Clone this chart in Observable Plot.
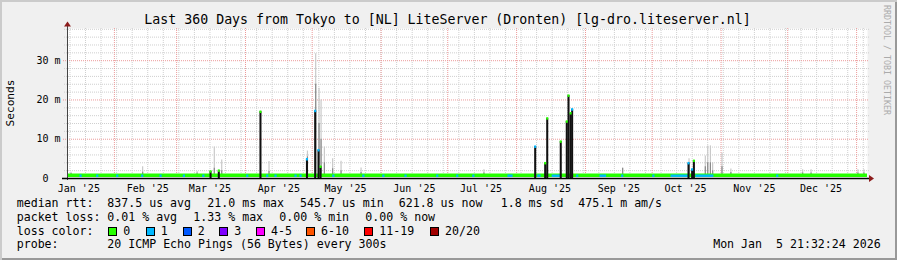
<!DOCTYPE html>
<html><head><meta charset="utf-8">
<script src="https://cdn.jsdelivr.net/npm/d3@7"></script>
<script src="https://cdn.jsdelivr.net/npm/@observablehq/plot@0.6"></script>
<style>
html,body{margin:0;padding:0;background:#fff;}
#chart{position:relative;width:897px;height:260px;background:#f0f0f0;overflow:hidden;
  box-shadow: inset 2px 2px 0 #cbcbcb, inset -2px -2px 0 #999;
  font-family:"DejaVu Sans Mono",monospace;color:#000;}
.t{position:absolute;white-space:pre;line-height:1;}
.sq{position:absolute;box-sizing:border-box;border:1px solid #000;width:9px;height:9px;}
#plotwrap{position:absolute;left:0;top:20px;}
</style></head>
<body><div id="chart"><div id="plotwrap"></div></div>
<script>
// ---------------- data ----------------
const titleText = "Last 360 Days from Tokyo to [NL] LiteServer (Dronten) [lg-dro.liteserver.nl]";
const yAxisTitle = "Seconds";
const watermark = "RRDTOOL / TOBI OETIKER";
const rangeStart = "2025-01-10T21:32:24";
const rangeEnd = "2026-01-05T21:32:24";

const monthLabels = ["Jan '25","Feb '25","Mar '25","Apr '25","May '25","Jun '25","Jul '25","Aug '25","Sep '25","Oct '25","Nov '25","Dec '25"];
const monthLabelDates = ["2025-01-16","2025-02-16","2025-03-16","2025-04-16","2025-05-16","2025-06-16","2025-07-16","2025-08-16","2025-09-16","2025-10-16","2025-11-16","2025-12-16"];

const yTickValues = [0, 10, 20, 30];
const yTickLabels = ["0\u00a0\u00a0", "10 m", "20 m", "30 m"];
const yMinorGrid = [2,4,6,8,12,14,16,18,22,24,26,28,32,34,36,38];
const yMajorGrid = [10, 20, 30];
const yMax = 38.2;

// typical median rtt (ms)
const medianMs = 0.84;

// bins where the median jumped (dark smoke bar + coloured median tip)
const spikeDates = ["2025-03-16T12:00","2025-03-20T05:00","2025-04-07T23:00","2025-04-28T21:00","2025-05-02T14:00","2025-05-04T02:00","2025-05-05T00:00",
  "2025-08-09T14:00","2025-08-14T02:00","2025-08-15T00:00","2025-08-21T02:00","2025-08-23T19:00","2025-08-24T14:00","2025-08-25T12:00","2025-08-26T05:00",
  "2025-10-17T14:00","2025-10-19T05:00","2025-10-20T00:00"];
const spikeMs = [1.8, 2.0, 17.0, 4.9, 17.2, 7.2, 3.0, 8.1, 3.9, 15.3, 9.4, 14.5, 21.1, 16.6, 17.6, 3.9, 2.3, 4.5];
const spikeLoss = [0, 0, 0, 1, 1, 1, 0, 1, 0, 0, 0, 0, 0, 0, 1, 1, 1, 0];

// grey smoke (ping spread) spikes
const smokeDates = ["2025-01-12T12:00","2025-02-13T17:00","2025-03-10T05:00","2025-03-17T23:00","2025-03-21T07:00","2025-04-11T14:00","2025-04-28T21:00",
  "2025-05-02T14:00","2025-05-04T02:00","2025-05-05T00:00","2025-05-06T12:00","2025-05-10T05:00","2025-05-14T00:00","2025-05-23T00:00",
  "2025-07-17T07:00","2025-09-17T17:00","2025-10-17T14:00","2025-10-24T22:00","2025-10-26T00:00","2025-10-27T05:00","2025-10-28T05:00",
  "2025-11-01T10:00","2025-11-05T10:00","2025-12-07T17:00","2025-12-11T12:00","2026-01-01T14:00","2026-01-04T07:00"];
const smokeMaxMs = [1.6, 3.0, 1.8, 8.0, 4.7, 4.3, 7.0, 31.8, 23.0, 20.0, 8.0, 5.0, 4.4, 2.7, 2.2, 2.6, 5.0, 5.7, 8.3, 8.3, 4.0, 6.4, 2.4, 2.2, 2.2, 2.2, 2.2];
const smokeMidMs = [1.3, 1.6, 1.4, 2.6, 2.0, 1.8, 5.5, 24.0, 14.0, 10.0, 4.0, 2.5, 2.0, 1.5, 1.4, 2.6, 4.0, 3.0, 4.0, 4.0, 2.0, 3.0, 1.5, 1.4, 1.4, 1.4, 1.4];

// bins with 1/20 loss (median drawn in the "1" colour)
const lossStart = ["2025-01-16T12:00","2025-01-24T00:00","2025-02-02T00:00","2025-02-13T06:00","2025-02-21T12:00","2025-03-04T00:00","2025-03-12T18:00",
  "2025-04-01T12:00","2025-04-10T12:00","2025-04-14T06:00","2025-04-23T06:00","2025-04-25T12:00","2025-05-10T06:00","2025-05-23T18:00",
  "2025-06-01T18:00","2025-06-11T18:00","2025-06-26T00:00","2025-07-05T00:00","2025-07-12T06:00","2025-07-28T02:00","2025-08-10T12:00",
  "2025-08-17T00:00","2025-08-28T00:00","2025-09-07T12:00","2025-09-17T06:00","2025-10-01T06:00","2025-10-09T12:00","2025-10-20T17:00","2025-11-26T00:00"];
const lossEnd = ["2025-01-17T12:00","2025-01-25T00:00","2025-02-03T00:00","2025-02-14T06:00","2025-02-22T12:00","2025-03-05T00:00","2025-03-13T18:00",
  "2025-04-02T12:00","2025-04-11T12:00","2025-04-15T06:00","2025-04-24T06:00","2025-04-26T12:00","2025-05-11T06:00","2025-05-24T18:00",
  "2025-06-02T18:00","2025-06-12T18:00","2025-06-27T00:00","2025-07-06T00:00","2025-07-13T06:00","2025-07-30T10:00","2025-08-12T00:00",
  "2025-08-21T00:00","2025-08-29T00:00","2025-09-10T12:00","2025-09-18T06:00","2025-10-02T06:00","2025-10-17T08:00","2025-10-28T19:00","2025-11-27T00:00"];

const lossLabels = ["0","1","2","3","4-5","6-10","11-19","20/20"];
const lossColors = ["#26ff00","#00b8ff","#0059ff","#7e00ff","#ff00ff","#ff5500","#ff0000","#a10000"];

const statsMedian = ["median rtt:", "837.5 us avg", "21.0 ms max", "545.7 us min", "621.8 us now", "1.8 ms sd", "475.1 m am/s"];
const statsLoss = ["packet loss:", "0.01 % avg", "1.33 % max", "0.00 % min", "0.00 % now"];
const lossRowLabel = "loss color:";
const probeText = ["probe:", "20 ICMP Echo Pings (56 Bytes) every 300s"];
const stampText = "Mon Jan  5 21:32:24 2026";

// ---------------- helpers ----------------
const D = s => new Date(s.length === 10 ? s + "T00:00:00Z" : s + "Z");
const start = D(rangeStart), end = D(rangeEnd);
const yLabelMap = new Map(yTickValues.map((v, i) => [v, yTickLabels[i]]));
const xLabelMap = new Map(monthLabelDates.map((d, i) => [D(d).getTime(), monthLabels[i]]));
const spikeIdx = d3.range(spikeDates.length);
const smokeIdx = d3.range(smokeDates.length);
const lossIdx = d3.range(lossStart.length);
const weekLines = d3.utcSunday.range(start, end);
const monthLines = d3.utcMonth.range(start, end);
const half = 11; // hours, half bin width

const minorGrid = "#cfcfcf", majorGrid = "#ec9a9a";

const plot = Plot.plot({
  width: 897, height: 180,
  marginLeft: 67, marginRight: 30, marginTop: 8, marginBottom: 22,
  style: {background: "transparent", fontFamily: "DejaVu Sans Mono", fontSize: "10px", overflow: "visible", color: "#000"},
  x: {type: "utc", domain: [start, end]},
  y: {domain: [0, yMax]},
  color: {type: "identity"},
  marks: [
    Plot.frame({fill: "white", stroke: "none"}),
    Plot.ruleX(weekLines, {stroke: minorGrid, strokeDasharray: "1,1"}),
    Plot.ruleY(yMinorGrid, {stroke: minorGrid, strokeDasharray: "1,1", insetLeft: -3, insetRight: -2}),
    Plot.ruleX(monthLines, {stroke: majorGrid, strokeDasharray: "1,1"}),
    Plot.ruleY(yMajorGrid, {stroke: majorGrid, strokeDasharray: "1,1", insetLeft: -4, insetRight: -2}),
    // smoke
    Plot.ruleX(smokeIdx, {x: i => D(smokeDates[i]), y1: () => medianMs, y2: i => smokeMaxMs[i], stroke: "#c9c9c9", strokeWidth: 1.2}),
    Plot.ruleX(smokeIdx, {x: i => D(smokeDates[i]), y1: () => medianMs, y2: i => smokeMidMs[i], stroke: "#8a8a8a", strokeWidth: 1.2}),
    // median baseline
    Plot.ruleY([medianMs], {y: d => d, x1: () => start, x2: () => end, stroke: lossColors[0], strokeWidth: 3.4}),
    // loss 1/20 bins on the median
    Plot.ruleY(lossIdx, {y: () => medianMs, x1: i => D(lossStart[i]), x2: i => D(lossEnd[i]), stroke: lossColors[1], strokeWidth: 2.4, dy: 0.5}),
    // dark bars
    Plot.rect(spikeIdx, {x1: i => d3.utcHour.offset(D(spikeDates[i]), -half), x2: i => d3.utcHour.offset(D(spikeDates[i]), half),
      y1: () => 0, y2: i => spikeMs[i], fill: "#111"}),
    // median tips coloured by loss
    Plot.ruleY(spikeIdx, {y: i => spikeMs[i], x1: i => d3.utcHour.offset(D(spikeDates[i]), -half), x2: i => d3.utcHour.offset(D(spikeDates[i]), half),
      stroke: i => lossColors[spikeLoss[i]], strokeWidth: 2.5}),
    Plot.axisY(yTickValues, {tickSize: 0, tickPadding: 7, tickFormat: d => yLabelMap.get(d), label: null, fontSize: 10}),
    Plot.axisX(monthLabelDates.map(D), {tickSize: 0, tickPadding: 6, tickFormat: d => xLabelMap.get(d.getTime()), label: null, fontSize: 10})
  ]
});
document.getElementById("plotwrap").appendChild(plot);

// axes lines and arrows (rrdtool style)
const [X0, X1] = plot.scale("x").range;
const [Y0, Y1] = plot.scale("y").range; // bottom, top
const g = d3.select(plot).append("g");
g.append("line").attr("x1", X0 + 0.5).attr("x2", X0 + 0.5).attr("y1", Y0 + 2).attr("y2", Y1 - 2)
  .attr("stroke", "#444").attr("stroke-width", 1);
g.append("line").attr("x1", X0 - 5).attr("x2", X1 + 2).attr("y1", Y0 + 0.5).attr("y2", Y0 + 0.5)
  .attr("stroke", "#000").attr("stroke-width", 1.3);
g.append("path").attr("d", `M${X0 + 0.5},${Y1 - 6.5}L${X0 + 4},${Y1 - 1.5}L${X0 - 3},${Y1 - 1.5}Z`).attr("fill", "#8c1c1c");
g.append("path").attr("d", `M${X1 + 7},${Y0 + 0.5}L${X1 + 2},${Y0 - 3}L${X1 + 2},${Y0 + 4}Z`).attr("fill", "#8c1c1c");

// ---------------- texts ----------------
const chart = document.getElementById("chart");
function txt(s, x, baseline, size, extra) {
  const el = document.createElement("div");
  el.className = "t";
  el.textContent = s;
  el.style.left = x + "px";
  el.style.top = (baseline - 0.846 * size) + "px";
  el.style.fontSize = size + "px";
  if (extra) Object.assign(el.style, extra);
  chart.appendChild(el);
  return el;
}
const F = 11.6;
txt(titleText, 447.5, 24, 13.25, {transform: "translateX(-50%)"});

// y axis title
const yt = document.createElement("div");
yt.className = "t"; yt.textContent = yAxisTitle;
Object.assign(yt.style, {left: "10.5px", top: "102.5px", fontSize: "11.2px", transform: "translate(-50%,-50%) rotate(-90deg)"});
chart.appendChild(yt);

// watermark
const wm = document.createElement("div");
wm.className = "t"; wm.textContent = watermark;
Object.assign(wm.style, {left: "886.5px", top: "60px", fontSize: "8.3px", color: "#ababab", transform: "translate(-50%,-50%) rotate(90deg)"});
chart.appendChild(wm);

const row1X = [16.7, 107.3, 207.3, 300, 398.7, 500.7, 578.3];
statsMedian.forEach((s, i) => txt(s, row1X[i], 207.5, F));
const row2X = [16.7, 107.3, 193.3, 279.3, 365.3];
statsLoss.forEach((s, i) => txt(s, row2X[i], 221.5, F));
txt(lossRowLabel, 16.7, 235.5, F);
const sqX = [108.3, 145.7, 182.7, 219.3, 256, 306, 364.3, 430];
lossLabels.forEach((s, i) => {
  const sq = document.createElement("div");
  sq.className = "sq";
  sq.style.left = sqX[i] + "px"; sq.style.top = "227.3px"; sq.style.background = lossColors[i];
  chart.appendChild(sq);
  txt(s, sqX[i] + 15, 235.5, F);
});
txt(probeText[0], 16.7, 249.3, F);
txt(probeText[1], 107.3, 249.3, F);
txt(stampText, 880.7, 249.3, F, {transform: "translateX(-100%)"});
</script>
</body></html>
